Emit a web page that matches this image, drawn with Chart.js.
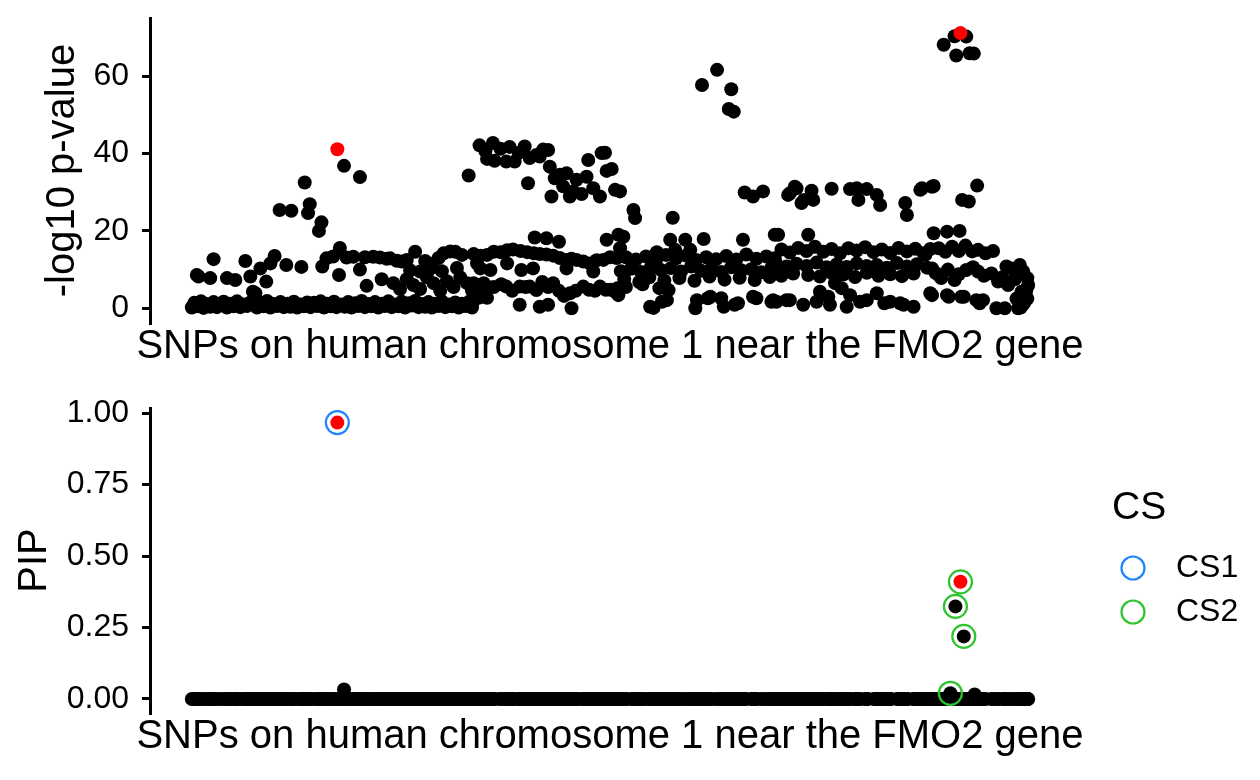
<!DOCTYPE html>
<html>
<head>
<meta charset="utf-8">
<script src="https://cdn.jsdelivr.net/npm/chart.js@4.4.1/dist/chart.umd.min.js"></script>
<style>
  html, body { margin: 0; padding: 0; background: #fff; }
  .panel { position: absolute; left: 0; width: 1260px; height: 390px; }
</style>
</head>
<body>
<div class="panel" style="top:0"><canvas id="pvalue" width="1260" height="390"></canvas></div>
<div class="panel" style="top:390px"><canvas id="pip" width="1260" height="390"></canvas></div>
<script>
const FONT = "'Liberation Sans', Arial, Helvetica, sans-serif";

// SNP index along the region, -log10 p-value
const snpLogP = [
  // SNPs 1-160
  [1,0.2],[4,1.4],[8,0.5],[12,1.8],[15,0.1],[19,1.1],[23,0.4],[27,1.6],[31,0.3],[35,0.9],[39,1.7],[43,0.2],
  [47,1.2],[51,0.5],[55,1.8],[59,0.3],[63,1.0],[67,0.6],[71,1.5],[74,4.3],[76,2.6],[79,0.2],[83,1.3],[87,0.5],
  [91,1.9],[95,0.2],[99,1.1],[103,0.6],[107,1.6],[111,0.3],[115,1.2],[119,0.4],[123,1.7],[127,0.2],[131,1.0],
  [135,0.5],[139,1.5],
  [7,8.6],[9,8.2],[23,7.8],[27,12.7],[43,7.8],[53,7.3],[65,12.2],[71,8.2],[77,3.9],[83,10.3],[90,6.9],[95,11.6],
  [100,13.5],[114,11.2],[132,10.7],[106,25.4],[120,25.2],[136,32.5],[140,24.6],[142,26.9],[153,20],[156,22.2],[157,10.8],
  // SNPs 140-336
  [143,0.3],[147,1.4],[151,0.6],[155,1.8],[159,0.2],[163,1.2],[167,0.5],[171,1.7],[174,0.3],[180,1.0],[184,0.4],
  [188,1.6],[192,0.2],[196,1.3],[200,0.6],[204,1.9],[208,0.3],[212,1.1],[216,0.5],[220,1.6],[224,0.2],[228,1.2],
  [232,0.6],[236,1.8],[240,0.3],[244,1.0],[248,0.5],[252,1.7],[256,0.2],[260,1.3],[264,0.7],[268,1.9],[272,0.3],
  [276,1.1],[280,0.4],[284,1.6],[288,0.2],[292,1.2],[296,0.6],[300,1.8],[304,0.3],[308,1.0],[312,0.5],[316,1.5],
  [320,0.2],[324,1.2],[328,0.6],[332,1.6],[336,0.2],
  [162,12.9],[170,13.4],[178,15.6],[183,36.8],[177,8.6],[186,13.1],[194,13.3],[202,33.9],[202,10],[208,13.2],
  [210,5.8],[218,13.3],[226,13.1],[228,7.5],[234,12.8],[238,12.9],[246,12.3],[252,12.1],[258,12.5],[268,14.6],
  [274,9.5],[280,12.2],[288,11.5],[296,13],[302,14.2],[310,14.7],[316,14.6],[324,13.8],[332,34.3],
  [242,6.5],[250,5],[258,7.5],[266,6],[274,5],[282,8],[290,6.5],[298,4.5],[306,7],[314,5.5],[322,8],[330,6.5],
  [336,4.5],[262,9.8],[286,10.2],[300,9.6],[318,10.4],
  // SNPs 336-513
  [345,42.1],[352,40.6],[354,38.6],[361,42.7],[363,38.1],[370,41.2],[377,37.9],[381,41.7],[387,37.9],[392,40.2],
  [399,41.8],[403,32.3],[405,38.8],[413,39.6],[417,39.2],[421,41],[427,40.9],[429,36.6],[431,28.9],[435,33.6],
  [441,34.5],[445,31.5],[449,34.9],[453,28.9],[457,30.2],[461,33.2],[467,29.5],[473,34],[475,38.3],[481,31],
  [489,28.9],[491,40.1],[495,40.2],[497,35.5],[503,36],[507,30.6],[513,30.2],
  [411,18.3],[425,18.1],[440,17.2],[497,17.7],[511,19],
  [338,14],[346,13.6],[354,13.8],[362,14.6],[370,14.5],[378,15],[385,15.2],[394,14.8],[402,14.5],[410,14.2],
  [417,14],[425,13.9],[433,13.6],[441,13],[449,12.5],[455,12.8],[461,12.5],[469,12.1],[477,11.6],[485,12.4],
  [493,12.5],[501,13.2],[509,13],
  [342,11.6],[346,10.3],[358,9.9],[378,11.6],[395,9.9],[409,10.3],[449,10.3],[481,9.5],
  [338,6.5],[344,5.8],[350,6.5],[354,5.6],[362,5.5],[371,6.2],[377,5.6],[384,4.5],[393,5.6],[400,5.5],[405,5.6],
  [413,4.7],[420,6.8],[427,5.5],[433,6.5],[440,4.5],[446,3.2],[453,3.9],[460,4.5],[469,5.6],[476,4.8],[483,4.5],
  [489,5.6],[496,4.8],[502,4.8],[510,5.2],
  [337,1.6],[345,2.8],[354,2.7],[393,0.9],[417,0.4],[427,0.9],[455,0],
  // SNPs 507-700
  [611,57.7],[629,61.6],[646,56.6],[643,51.5],[649,50.8],
  [529,25.4],[531,23.3],[576,23.4],[662,29.9],[672,28.9],[684,30.2],
  [517,18.5],[573,17.7],[591,17.7],[613,17.9],[660,17.7],[698,19],
  [557,14.5],[579,15.1],[597,15.1],[513,15.5],
  [520,13.2],[532,12.6],[544,13.4],[556,12.4],[568,13.8],[580,12.9],[592,13.6],[604,12.5],[616,13.2],[628,12.7],
  [640,13.5],[652,12.6],[664,13.9],[676,12.8],[688,13.4],[698,12.9],
  [514,9.6],[526,10.2],[538,9.4],[550,10.6],[562,9.9],[574,10.4],[586,9.5],[598,10.8],[610,9.7],[622,10.3],
  [634,9.4],[646,10.6],[658,9.8],[670,10.1],[682,9.3],[694,10.5],
  [518,7.6],[536,6.8],[548,8],[566,7.2],[584,7.8],[602,7.1],[620,8.2],[638,7.4],[656,7.9],[674,7.3],[692,8.1],
  [507,4.3],[511,3.4],[520,5.5],[540,6.2],[560,5.2],[571,4.7],
  [549,0.4],[553,0.1],[563,1.7],[569,2.1],[603,0],[605,2.1],[618,2.6],[621,3],[634,2.6],[637,0.4],[650,0.9],
  [654,1.3],[672,3],[676,2.6],[694,1.7],[696,2.1],
  // SNPs 700-876
  [714,29.3],[716,29.7],[722,31.4],[724,31],[730,27.2],[733,28],[742,30.4],[744,28],[766,30.9],[788,30.8],
  [796,31],[798,28],[808,30.8],[820,29.3],[824,26.7],[854,27.2],[856,24.1],[872,30.6],[874,31],
  [702,19],[738,19],
  [706,15.2],[716,14.4],[726,15.6],[736,14.8],[746,15.9],[756,14.6],[766,15.3],[776,14.2],[786,15.5],[796,14.9],
  [806,15.8],[816,14.5],[826,15.2],[836,14.3],[846,15.6],[856,14.7],[866,15.4],[876,14.2],
  [700,11.4],[712,10.8],[724,11.5],[736,10.9],[748,11.8],[760,10.6],[772,11.3],[784,10.7],[796,11.6],[808,10.9],
  [820,11.2],[832,10.5],[844,11.7],[856,10.8],[868,11.4],
  [706,8.4],[720,9],[738,8.6],[752,8.2],[766,9.1],[780,8.7],[794,8.1],[808,9.2],[822,8.4],[836,8.8],[850,8.3],[864,9],
  [752,4.3],[762,3],[770,6.5],[778,5.2],[788,3.4],
  [700,1.7],[712,2.1],[716,2.1],[732,0.9],[748,1.7],[764,0.9],[784,0.4],[800,1.7],[808,2.1],[820,3.9],[829,1.3],
  [836,1.7],[848,1.3],[852,0.9],[864,0.4],
  // SNPs 876-1001
  [900,68.1],[913,70.3],[927,70.2],[915,65.3],[931,65.9],[936,65.8],
  [886,31.4],[888,31.6],[940,31.7],[922,28],[930,27.6],
  [888,19.4],[904,19.8],[919,20],
  [878,13.8],[884,15.3],[894,15.5],[902,14.6],[910,15.9],[918,14.8],[926,16.2],[934,14.7],[941,15.1],[950,14.2],[959,14.8],
  [880,10.5],[886,10.3],[890,9.2],[894,8.6],[897,7.8],[905,10],[913,7.3],[918,8.8],[927,9.9],[935,10.6],[941,9.5],
  [948,8.4],[957,9],[965,6.9],[970,8],[975,10.8],[977,6],[981,10.3],[985,7.5],[991,11.2],[993,4.3],[995,9.5],
  [999,5],[1000,7.8],[1001,6],[998,3.9],
  [884,3.9],[886,3.4],[904,3.4],[906,3],[921,3],[924,3],[939,2.1],[947,2.1],[943,1.3],[963,0],[973,0],[987,2.5],
  [989,0],[995,1],[997,1.7],[1000,2.5],[992,0.2]
];

// top SNP of each credible set (red)
const leadSnps = [175, 920];
const leadLogP = [41.1, 71.1];

// SNPs with a visible posterior inclusion probability; every other SNP sits at 0
const pipSnps = [175, 183, 908, 914, 920, 924, 937];
const pipValues = [0.967, 0.033, 0.02, 0.324, 0.41, 0.219, 0.016];

const csNames = ['CS1', 'CS2'];
const csSnps = [[175], [908, 914, 920, 924]];
const csColors = ['#1E84FF', '#2EC42E'];

const logPTicks = [0, 20, 40, 60];
const pipTicks = [0, 0.25, 0.5, 0.75, 1];

const xTitle = 'SNPs on human chromosome 1 near the FMO2 gene';

const pipOf = new Map(pipSnps.map((s, i) => [s, pipValues[i]]));

// x title is wider than the panel, so draw it centred under the x scale without squeezing
const xTitlePlugin = {
  id: 'xTitle',
  afterDraw(chart) {
    const sx = chart.scales.x;
    const ctx = chart.ctx;
    ctx.save();
    ctx.fillStyle = '#000';
    ctx.textAlign = 'center';
    ctx.textBaseline = 'middle';
    ctx.font = '40px ' + FONT;
    ctx.fillText(xTitle, (sx.left + sx.right) / 2, sx.top + 24);
    ctx.restore();
  }
};

function xAxis() {
  return {
    type: 'linear', min: -49, max: 1051,
    grid: { display: false },
    border: { display: false },
    ticks: { display: false },
    afterFit: s => { s.height = 67; }
  };
}

function yAxis(min, max, tickVals, title, titlePad, fmt) {
  return {
    type: 'linear', min: min, max: max,
    afterBuildTicks: s => { s.ticks = tickVals.map(v => ({ value: v })); },
    grid: {
      display: true, drawOnChartArea: false, drawTicks: true,
      tickLength: 8, tickWidth: 3, tickColor: '#000', color: '#000', lineWidth: 3
    },
    border: { display: true, color: '#000', width: 3 },
    ticks: { color: '#000', padding: 13, font: { family: FONT, size: 32 }, callback: fmt },
    title: {
      display: true, text: title, color: '#000',
      font: { family: FONT, size: 40 },
      padding: { top: titlePad, bottom: 0 }
    },
    afterFit: s => { s.width = 150; s.paddingTop = 0; s.paddingBottom = 0; }
  };
}

function baseOptions(scales) {
  return {
    responsive: false,
    animation: false,
    events: [],
    layout: { padding: { top: 18, right: 190, bottom: 0, left: 0 } },
    plugins: { legend: { display: false }, tooltip: { enabled: false } },
    scales: scales
  };
}

function dots(data, color, order) {
  return {
    data: data, order: order,
    backgroundColor: color, borderWidth: 0,
    pointRadius: 7, pointHoverRadius: 7
  };
}

// top panel: -log10 p-values
new Chart(document.getElementById('pvalue'), {
  type: 'scatter',
  data: {
    datasets: [
      dots(leadSnps.map((s, i) => ({ x: s, y: leadLogP[i] })), '#FF0000', 0),
      dots(snpLogP.map(d => ({ x: d[0], y: d[1] })), '#000000', 1)
    ]
  },
  options: baseOptions({
    x: xAxis(),
    y: yAxis(-3.8, 75, logPTicks, '-log10 p-value', 39, v => String(v))
  }),
  plugins: [xTitlePlugin]
});

// legend for the credible sets, drawn right of the PIP panel
const csLegend = {
  id: 'csLegend',
  afterDraw(chart) {
    const ctx = chart.ctx;
    ctx.save();
    ctx.fillStyle = '#000';
    ctx.textAlign = 'left';
    ctx.textBaseline = 'middle';
    ctx.font = '39px ' + FONT;
    ctx.fillText('CS', 1112, 118);
    csNames.forEach((name, i) => {
      const y = 178 + i * 44;
      ctx.beginPath();
      ctx.arc(1133, y, 11.5, 0, Math.PI * 2);
      ctx.lineWidth = 2.2;
      ctx.strokeStyle = csColors[i];
      ctx.stroke();
      ctx.font = '32px ' + FONT;
      ctx.fillText(name, 1176, y);
    });
    ctx.restore();
  }
};

// bottom panel: PIP
const pipBlack = snpLogP.filter(d => !pipOf.has(d[0])).map(d => ({ x: d[0], y: 0 }))
  .concat(pipSnps.filter(s => !leadSnps.includes(s)).map(s => ({ x: s, y: pipOf.get(s) })));

const ringSets = csNames.map((name, i) => ({
  label: name,
  data: csSnps[i].map(s => ({ x: s, y: pipOf.get(s) })),
  order: 0,
  backgroundColor: 'rgba(0,0,0,0)',
  borderColor: csColors[i],
  borderWidth: 2.2,
  pointRadius: 11.5, pointHoverRadius: 11.5
}));

new Chart(document.getElementById('pip'), {
  type: 'scatter',
  data: {
    datasets: ringSets.concat([
      dots(leadSnps.map(s => ({ x: s, y: pipOf.get(s) })), '#FF0000', 1),
      dots(pipBlack, '#000000', 2)
    ])
  },
  options: baseOptions({
    x: xAxis(),
    y: yAxis(-0.049, 1.018, pipTicks, 'PIP', 10.7, v => v.toFixed(2))
  }),
  plugins: [xTitlePlugin, csLegend]
});
</script>
</body>
</html>
